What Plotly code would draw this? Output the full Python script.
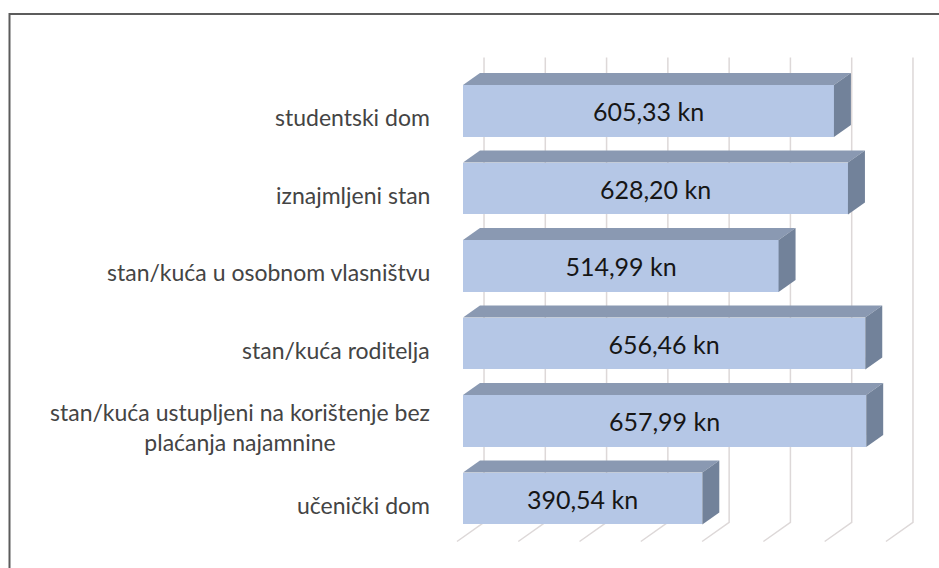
import plotly.graph_objects as go

# Average monthly cost by type of accommodation (kn)
categories = [
    "studentski dom",
    "iznajmljeni stan",
    "stan/kuća u osobnom vlasništvu",
    "stan/kuća roditelja",
    "stan/kuća ustupljeni na korištenje bez<br>plaćanja najamnine",
    "učenički dom",
]
costs_kn = [605.33, 628.20, 514.99, 656.46, 657.99, 390.54]
grid_values = [0, 100, 200, 300, 400, 500, 600, 700]

W, H = 939, 568
positions = list(range(len(categories)))

# Styling of the pseudo-3D projection (value units / category units)
BAR_H = 0.67                 # thickness of each bar's front face
DEPTH_X, DEPTH_Y = 27.7, -0.155   # bar depth vector
WALL_X, WALL_Y = 34.3, -0.191     # back wall position
FLOOR_X, FLOOR_Y = -9.8, 0.055    # front edge of the floor
FRONT_C, TOP_C, SIDE_C = "#b5c7e6", "#8a99b2", "#72829a"
GRID_C = "#ddd8d8"

fig = go.Figure()

# Front faces of the bars with the value labels
fig.add_trace(go.Bar(
    x=costs_kn, y=positions, orientation="h", width=BAR_H,
    marker=dict(color=FRONT_C, line=dict(width=0)),
    texttemplate="%{x:.2f} kn", textposition="inside",
    insidetextanchor="middle",
    textfont=dict(family="Lato", size=25, color="#161616"),
    hoverinfo="skip",
))

# Top and end faces giving the bars their depth
for pos, v in zip(positions, costs_kn):
    top = pos - BAR_H / 2
    bot = pos + BAR_H / 2
    fig.add_trace(go.Scatter(
        x=[0, v, v + DEPTH_X, DEPTH_X, 0],
        y=[top, top, top + DEPTH_Y, top + DEPTH_Y, top],
        fill="toself", fillcolor=TOP_C, mode="lines",
        line=dict(width=0, color=TOP_C), hoverinfo="skip",
    ))
    fig.add_trace(go.Scatter(
        x=[v, v + DEPTH_X, v + DEPTH_X, v, v],
        y=[top, top + DEPTH_Y, bot + DEPTH_Y, bot, top],
        fill="toself", fillcolor=SIDE_C, mode="lines",
        line=dict(width=0, color=SIDE_C), hoverinfo="skip",
    ))

# Gridlines on the back wall and the floor
first, last = positions[0] - 0.5, positions[-1] + 0.5
shapes = []
for g in grid_values:
    shapes.append(dict(
        type="path", xref="x", yref="y", layer="below",
        path=(f"M {g + WALL_X},{first + WALL_Y} "
              f"L {g + WALL_X},{last + WALL_Y} "
              f"L {g + FLOOR_X},{last + FLOOR_Y}"),
        line=dict(color=GRID_C, width=1.5),
    ))

# Frame around the chart
shapes.append(dict(
    type="rect", xref="paper", yref="paper",
    x0=9.5 / W, x1=1.05, y0=-0.05, y1=1 - 14 / H,
    line=dict(color="#5c5c5c", width=2), layer="above",
))

# Category labels
annotations = []
for pos, name in zip(positions, categories):
    annotations.append(dict(
        x=432 / W, xref="paper", xanchor="right",
        y=pos + 0.08, yref="y", yanchor="middle",
        text=name, showarrow=False, align="center",
        font=dict(family="Lato", size=23, color="#444444"),
    ))

# Axis ranges chosen so 100 kn spans ~61 px and bars sit right of the labels
x_px0, x_scale = 463, 0.6128
y_px0, y_scale = 111, 77.5
fig.update_layout(
    width=W, height=H,
    margin=dict(l=0, r=0, t=0, b=0),
    paper_bgcolor="white", plot_bgcolor="white",
    showlegend=False, separators=", ",
    xaxis=dict(range=[-x_px0 / x_scale, (W - x_px0) / x_scale],
               visible=False, fixedrange=True),
    yaxis=dict(range=[(H - y_px0) / y_scale, -y_px0 / y_scale],
               visible=False, fixedrange=True),
    shapes=shapes, annotations=annotations,
    bargap=0,
)

fig.write_html("out.html")
